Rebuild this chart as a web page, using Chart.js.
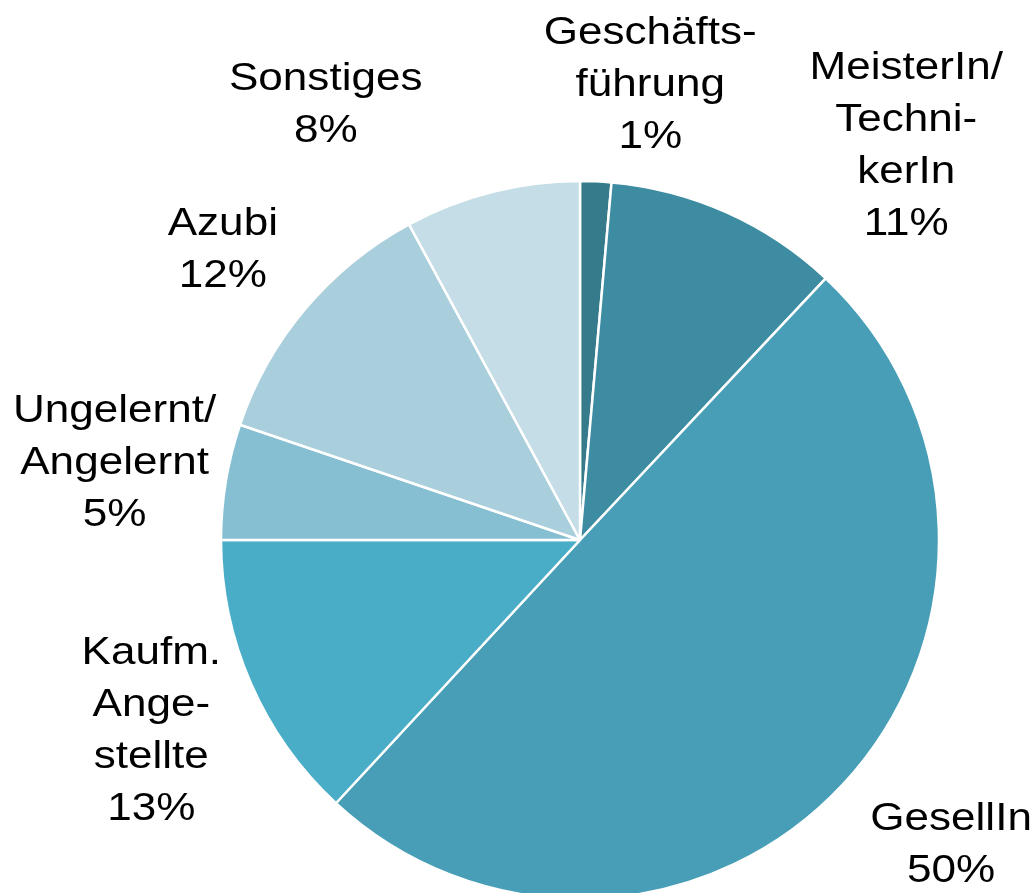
<!DOCTYPE html>
<html lang="de">
<head>
<meta charset="utf-8">
<title>Beschäftigte nach Position</title>
<script src="https://cdn.jsdelivr.net/npm/chart.js@4/dist/chart.umd.min.js"></script>
<style>
    html, body { margin: 0; padding: 0; background: #fff; overflow: hidden; }
    #wrap { width: 1035px; height: 893px; }
</style>
</head>
<body>
<div id="wrap"><canvas id="pieChart" width="1035" height="893"></canvas></div>
<script>
// Daten (im Uhrzeigersinn ab 12 Uhr)
const categories = ['Geschäftsführung', 'MeisterIn/TechnikerIn', 'GesellIn', 'Kaufm. Angestellte',
    'Ungelernt/Angelernt', 'Azubi', 'Sonstiges'];
const labelLines = [
    ['Geschäfts-', 'führung'],
    ['MeisterIn/', 'Techni-', 'kerIn'],
    ['GesellIn'],
    ['Kaufm.', 'Ange-', 'stellte'],
    ['Ungelernt/', 'Angelernt'],
    ['Azubi'],
    ['Sonstiges']
];
const shares = [1.4, 10.6, 49.9, 13.1, 5.2, 11.9, 7.9];
const sliceColors = ['#367b8b', '#3e8ca2', '#489eb6', '#4aadc7', '#86bfd1', '#a9cedc', '#c5dde6'];

// Lage der Beschriftungen: Winkelverschiebung (Grad) und Abstand (Faktor * Radius)
const labelAngleShift = [6.25, 15.5, -3.6, -0.5, 0, -1.1, -16.1];
const labelDistance = [1.283, 1.425, 1.338, 1.308, 1.314, 1.281, 1.403];

const outsideLabels = {
    id: 'outsideLabels',
    afterDatasetsDraw(chart) {
        const ctx = chart.ctx;
        const meta = chart.getDatasetMeta(0);
        const total = shares.reduce((a, b) => a + b, 0);
        const lineHeight = 52;
        ctx.save();
        ctx.font = '39px "Liberation Sans", Arial, sans-serif';
        ctx.fillStyle = '#000';
        ctx.textAlign = 'center';
        ctx.textBaseline = 'middle';
        meta.data.forEach((arc, i) => {
            const p = arc.getProps(['startAngle', 'endAngle', 'x', 'y', 'outerRadius'], true);
            const mid = (p.startAngle + p.endAngle) / 2 + labelAngleShift[i] * Math.PI / 180;
            const dist = p.outerRadius * labelDistance[i];
            const cx = p.x + Math.cos(mid) * dist;
            const cy = p.y + Math.sin(mid) * dist;
            const lines = labelLines[i].concat([Math.round(shares[i] / total * 100) + '%']);
            lines.forEach((line, j) => {
                const ly = cy + (j - (lines.length - 1) / 2) * lineHeight;
                ctx.save();
                ctx.translate(cx, ly);
                ctx.scale(1.13, 1);
                ctx.fillText(line, 0, 0);
                ctx.restore();
            });
        });
        ctx.restore();
    }
};

new Chart(document.getElementById('pieChart'), {
    type: 'pie',
    data: {
        labels: categories,
        datasets: [{
            data: shares,
            backgroundColor: sliceColors,
            borderColor: '#ffffff',
            borderWidth: 2.5,
            hoverOffset: 0,
            clip: false
        }]
    },
    options: {
        responsive: false,
        animation: false,
        events: [],
        radius: 359,
        layout: {
            padding: { left: 222, right: 97, top: 187, bottom: 0 }
        },
        plugins: {
            legend: { display: false },
            title: { display: false },
            tooltip: { enabled: false }
        }
    },
    plugins: [outsideLabels]
});
</script>
</body>
</html>
